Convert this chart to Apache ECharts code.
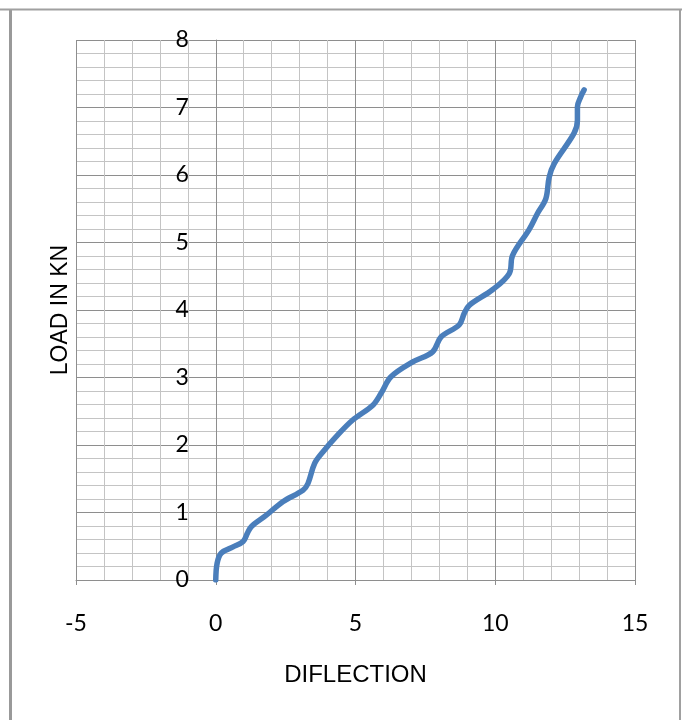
<!DOCTYPE html>
<html>
<head>
<meta charset="utf-8">
<script src="https://cdn.jsdelivr.net/npm/echarts@6/dist/echarts.min.js"></script>
<style>
html,body{margin:0;padding:0;background:#fff;}
#chart{width:685px;height:720px;}
</style>
</head>
<body>
<div id="chart"></div>
<script>
const deflection = [0, 0.05, 0.2, 0.62, 0.98, 1.13, 1.27, 1.81, 2.4, 3.12, 3.3, 3.54, 3.84, 4.3, 4.9, 5.62, 5.92, 6.27, 7.05, 7.76, 8.06, 8.71, 8.89, 9.07, 9.9, 10.5, 10.62, 11.21, 11.51, 11.81, 11.93, 12.11, 12.82, 12.94, 12.94, 13.06, 13.18];
const load = [0, 0.25, 0.40, 0.49, 0.57, 0.69, 0.79, 0.96, 1.16, 1.33, 1.43, 1.73, 1.90, 2.12, 2.37, 2.59, 2.77, 3.01, 3.23, 3.38, 3.60, 3.78, 3.95, 4.07, 4.30, 4.54, 4.81, 5.19, 5.43, 5.65, 5.97, 6.17, 6.62, 6.81, 7.01, 7.16, 7.26];
const xTicks = [-5, 0, 5, 10, 15];
const yTicks = [0, 1, 2, 3, 4, 5, 6, 7, 8];

const chart = echarts.init(document.getElementById('chart'), null, {renderer: 'canvas'});
const pts = deflection.map((d, i) => [d, load[i]]);
const major = '#8e8e8e', minor = '#c4c4c4';
const gridLeft = 76, gridRight = 50;
const plotW = 685 - gridLeft - gridRight;
// y axis crosses at x = 0 on the x scale
const yAxisOffset = -plotW * (0 - xTicks[0]) / (xTicks[xTicks.length - 1] - xTicks[0]);
chart.setOption({
  animation: false,
  backgroundColor: '#fff',
  grid: {left: gridLeft, right: gridRight, top: 40, bottom: 140, containLabel: false, outerBoundsMode: 'none'},
  xAxis: {
    type: 'value', min: xTicks[0], max: xTicks[xTicks.length - 1], interval: 5,
    name: 'DIFLECTION', nameLocation: 'middle', nameGap: 83,
    nameTextStyle: {fontFamily: 'Liberation Sans', fontSize: 24, color: '#000'},
    axisLine: {show: true, onZero: false, lineStyle: {color: major, width: 1}},
    axisTick: {show: true, length: 5, lineStyle: {color: major}},
    axisLabel: {margin: 32, fontFamily: 'Lato', fontSize: 23, color: '#000'},
    splitLine: {show: true, lineStyle: {color: major, width: 1}},
    minorTick: {show: false, splitNumber: 5},
    minorSplitLine: {show: true, lineStyle: {color: minor, width: 1}}
  },
  yAxis: {
    type: 'value', min: yTicks[0], max: yTicks[yTicks.length - 1], interval: 1,
    position: 'left', offset: yAxisOffset,
    name: 'LOAD IN KN', nameLocation: 'middle', nameGap: 144, nameRotate: 90,
    nameTextStyle: {fontFamily: 'Liberation Sans', fontSize: 23, color: '#000'},
    axisLine: {show: true, onZero: false, lineStyle: {color: major, width: 1}},
    axisTick: {show: false},
    axisLabel: {margin: 27, fontFamily: 'Lato', fontSize: 23, color: '#000'},
    splitLine: {show: true, lineStyle: {color: major, width: 1}},
    minorTick: {show: false, splitNumber: 5},
    minorSplitLine: {show: true, lineStyle: {color: minor, width: 1}}
  },
  series: [{
    type: 'line', data: pts, smooth: 0.35, showSymbol: false,
    lineStyle: {color: '#4a7ebb', width: 5.5, cap: 'round', join: 'round'}
  }],
  graphic: [
    {type: 'line', shape: {x1: 10.5, y1: 9, x2: 10.5, y2: 720}, style: {stroke: '#999', lineWidth: 3}},
    {type: 'line', shape: {x1: 0, y1: 9.5, x2: 682, y2: 9.5}, style: {stroke: '#a0a0a0', lineWidth: 2}},
    {type: 'line', shape: {x1: 680, y1: 9, x2: 680, y2: 720}, style: {stroke: '#a0a0a0', lineWidth: 2}}
  ]
});
</script>
</body>
</html>
